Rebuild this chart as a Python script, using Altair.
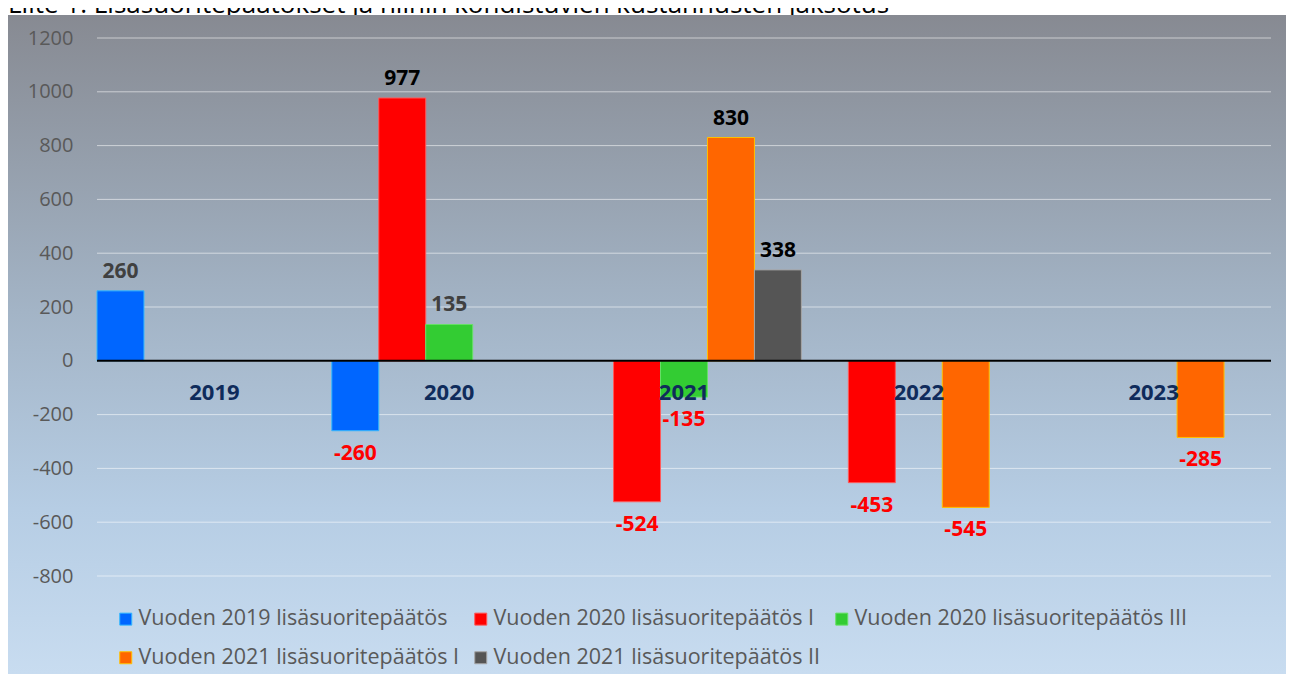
import altair as alt
import pandas as pd

TITLE = "Liite 1. Lisäsuoritepäätökset ja niihin kohdistuvien kustannusten jaksotus"

YEARS = ["2019", "2020", "2021", "2022", "2023"]
SERIES = [
    "Vuoden 2019 lisäsuoritepäätös",
    "Vuoden 2020 lisäsuoritepäätös I",
    "Vuoden 2020 lisäsuoritepäätös III",
    "Vuoden 2021 lisäsuoritepäätös I",
    "Vuoden 2021 lisäsuoritepäätös II",
]
S2019 = [260, -260, None, None, None]
S2020_I = [None, 977, -524, -453, None]
S2020_III = [None, 135, -135, None, None]
S2021_I = [None, None, 830, -545, -285]
S2021_II = [None, None, 338, None, None]
TICKS = [-800, -600, -400, -200, 0, 200, 400, 600, 800, 1000, 1200]

FILLS = ["#0066FF", "#FF0000", "#33CC33", "#FF6600", "#555555"]
STROKES = ["#33B8FF", "#FF5A5A", "#66E066", "#FFC000", "#A6A6A6"]
POS_LABEL_COLORS = ["#404040", "#000000", "#404040", "#000000", "#000000"]

rows = []
for name, vals in zip(SERIES, [S2019, S2020_I, S2020_III, S2021_I, S2021_II]):
    for y, v in zip(YEARS, vals):
        if v is not None:
            rows.append({"year": y, "series": name, "value": v, "label": str(v)})
df = pd.DataFrame(rows)

W, H = 1174, 538
PAD = {"left": 89, "top": 30, "right": 15, "bottom": 98}
TOTAL_W = PAD["left"] + W + PAD["right"]
TOTAL_H = PAD["top"] + H + PAD["bottom"]

yscale = alt.Scale(domain=[-800, 1200], nice=False)
xscale = alt.Scale(domain=YEARS, paddingInner=0, paddingOuter=0)
xoff_scale = alt.Scale(domain=SERIES, paddingInner=0, paddingOuter=0)

legend = alt.Legend(
    title=None, orient="none", legendX=18, legendY=570, columns=3,
    direction="horizontal", symbolType="square", symbolSize=144,
    symbolStrokeWidth=1, labelFont="Open Sans", labelFontSize=21.5,
    labelColor="#595959", labelLimit=600, labelOffset=2,
    columnPadding=10, rowPadding=16, padding=0, zindex=1,
)

one = pd.DataFrame({"k": [0]})

title_txt = alt.Chart(pd.DataFrame({"t": [TITLE]})).mark_text(
    align="left", baseline="alphabetic", font="Open Sans", fontSize=26, color="#000000"
).encode(x=alt.value(-89), y=alt.value(-25), text="t:N")

bg = alt.Chart(one).mark_rect(
    fill=alt.LinearGradient(
        gradient="linear",
        stops=[
            alt.GradientStop(offset=0, color="#878A92"),
            alt.GradientStop(offset=0.45, color="#A3B4C6"),
            alt.GradientStop(offset=0.75, color="#B6CDE4"),
            alt.GradientStop(offset=1, color="#C8DCF0"),
        ],
        x1=0, y1=0, x2=0, y2=1,
    )
).encode(
    x=alt.value(-PAD["left"]), x2=alt.value(TOTAL_W - PAD["left"]),
    y=alt.value(-23), y2=alt.value(TOTAL_H - PAD["top"]),
)

grid = alt.Chart(pd.DataFrame({"tick": TICKS})).mark_rule(
    color="#FFFFFF", opacity=0.55, strokeWidth=1
).encode(y=alt.Y("tick:Q", scale=yscale, title=None), x=alt.value(0), x2=alt.value(W))

base = alt.Chart(df)
X = alt.X("year:N", scale=xscale, axis=None)
XO = alt.XOffset("series:N", scale=xoff_scale)

bars = base.mark_bar(strokeWidth=1).encode(
    x=X, xOffset=XO,
    y=alt.Y("value:Q", scale=yscale, title=None,
            axis=alt.Axis(values=TICKS, grid=False, ticks=False, domain=False,
                          labelFont="Open Sans", labelFontSize=20, labelColor="#595959",
                          labelPadding=24, labelExpr="'' + datum.value", zindex=1, title=None)),
    fill=alt.Fill("series:N", scale=alt.Scale(domain=SERIES, range=FILLS), legend=legend),
    stroke=alt.Stroke("series:N", scale=alt.Scale(domain=SERIES, range=STROKES), legend=legend),
)

zero = alt.Chart(one).mark_rule(color="#000000", strokeWidth=2).encode(
    y=alt.datum(0), x=alt.value(0), x2=alt.value(W)
)

years_txt = alt.Chart(pd.DataFrame({"year": YEARS})).mark_text(
    font="Open Sans", fontWeight="bold", fontSize=22, color="#0F2B5B",
    baseline="alphabetic", dy=39
).encode(x=X, y=alt.datum(0), text="year:N")

pos = base.transform_filter("datum.value > 0").mark_text(
    font="Open Sans", fontWeight="bold", fontSize=21, baseline="alphabetic", dy=-13
).encode(
    x=X, xOffset=XO, y=alt.Y("value:Q", title=None), text="label:N",
    color=alt.Color("series:N", scale=alt.Scale(domain=SERIES, range=POS_LABEL_COLORS), legend=None),
)

neg = base.transform_filter("datum.value < 0").mark_text(
    font="Open Sans", fontWeight="bold", fontSize=21, baseline="alphabetic", dy=29, color="#FF0000"
).encode(x=X, xOffset=XO, y=alt.Y("value:Q", title=None), text="label:N")

chart = alt.layer(title_txt, bg, grid, bars, zero, years_txt, pos, neg).properties(
    width=W, height=H, autosize=alt.AutoSizeParams(type="none"), padding=PAD,
    background="#FFFFFF",
).configure_view(stroke=None)

chart.save("out.html", embed_options={"renderer": "svg", "actions": False})
